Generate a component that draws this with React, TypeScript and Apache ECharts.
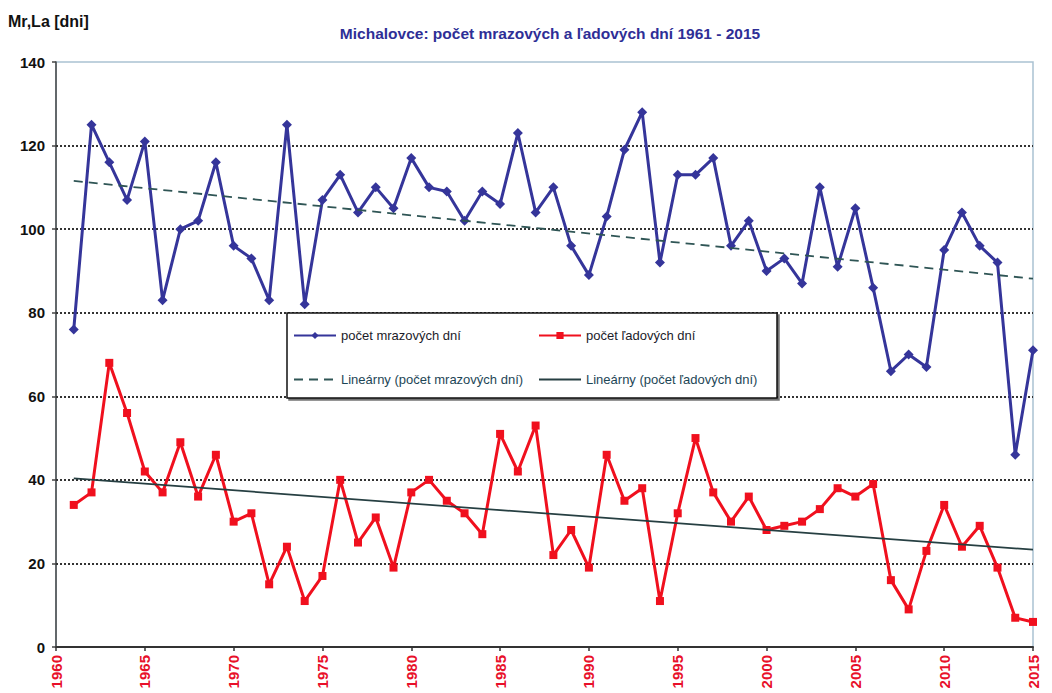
import React, { useEffect, useRef } from "react";
import * as echarts from "echarts";

const FONT = "Arial, 'Liberation Sans', sans-serif";

const TITLE = "Michalovce: počet mrazových a ľadových dní 1961 - 2015";
const Y_NAME = "Mr,La [dni]";

const FROST_NAME = "počet mrazových dní";
const ICE_NAME = "počet ľadových dní";
const FROST_TREND_NAME = "Lineárny (počet mrazových dní)";
const ICE_TREND_NAME = "Lineárny (počet ľadových dní)";

const years = Array.from({ length: 55 }, (_, i) => 1961 + i);

const frostDays = [
  76, 125, 116, 107, 121, 83, 100, 102, 116, 96,
  93, 83, 125, 82, 107, 113, 104, 110, 105, 117,
  110, 109, 102, 109, 106, 123, 104, 110, 96, 89,
  103, 119, 128, 92, 113, 113, 117, 96, 102, 90,
  93, 87, 110, 91, 105, 86, 66, 70, 67, 95,
  104, 96, 92, 46, 71,
];

const iceDays = [
  34, 37, 68, 56, 42, 37, 49, 36, 46, 30,
  32, 15, 24, 11, 17, 40, 25, 31, 19, 37,
  40, 35, 32, 27, 51, 42, 53, 22, 28, 19,
  46, 35, 38, 11, 32, 50, 37, 30, 36, 28,
  29, 30, 33, 38, 36, 39, 16, 9, 23, 34,
  24, 29, 19, 7, 6,
];

const gridTicks = [20, 40, 60, 80, 100, 120];

function linearTrend(xs: number[], ys: number[]): number[][] {
  const n = xs.length;
  const mx = xs.reduce((a, b) => a + b, 0) / n;
  const my = ys.reduce((a, b) => a + b, 0) / n;
  let sxy = 0;
  let sxx = 0;
  for (let i = 0; i < n; i++) {
    sxy += (xs[i] - mx) * (ys[i] - my);
    sxx += (xs[i] - mx) * (xs[i] - mx);
  }
  const k = sxy / sxx;
  const q = my - k * mx;
  const x0 = xs[0];
  const x1 = xs[n - 1];
  return [
    [x0, q + k * x0],
    [x1, q + k * x1],
  ];
}

export default function App() {
  const ref = useRef<HTMLDivElement>(null);

  useEffect(() => {
    if (!ref.current) return;
    const chart = echarts.init(ref.current, undefined, { renderer: "svg" });

    const frostData = years.map((y, i) => [y, frostDays[i]]);
    const iceData = years.map((y, i) => [y, iceDays[i]]);
    const frostTrend = linearTrend(years, frostDays);
    const iceTrend = linearTrend(years, iceDays);

    const legendBase = {
      orient: "horizontal",
      padding: 0,
      itemWidth: 42,
      itemHeight: 9,
      itemGap: 0,
      z: 20,
      selectedMode: false,
      textStyle: { fontFamily: FONT, fontSize: 13, color: "#1c1c2a", padding: [0, 0, 0, 0] },
    };

    const option: any = {
      animation: false,
      backgroundColor: "#ffffff",
      grid: {
        left: 56,
        right: 19,
        top: 62,
        bottom: 46,
        show: true,
        borderColor: "#aac2d2",
        borderWidth: 1.5,
        backgroundColor: "transparent",
      },
      xAxis: {
        type: "value",
        min: 1960,
        max: 2015,
        interval: 5,
        axisLine: { show: true, onZero: false, lineStyle: { color: "#333333", width: 2 } },
        axisTick: { show: true, length: 4, lineStyle: { color: "#333333", width: 1.5 } },
        axisLabel: {
          rotate: 90,
          color: "#e8102a",
          fontWeight: "bold",
          fontSize: 15,
          fontFamily: FONT,
          margin: 8,
          showMinLabel: true,
          showMaxLabel: true,
          formatter: (v: number) => String(v),
        },
        splitLine: { show: false },
      },
      yAxis: {
        type: "value",
        min: 0,
        max: 140,
        interval: 20,
        axisLine: { show: true, lineStyle: { color: "#444444", width: 1.5 } },
        axisTick: { show: true, length: 4, lineStyle: { color: "#444444", width: 1.5 } },
        axisLabel: {
          color: "#111111",
          fontWeight: "bold",
          fontSize: 15,
          fontFamily: FONT,
          margin: 11,
        },
        splitLine: { show: false },
      },
      legend: [
        { ...legendBase, data: [FROST_NAME], left: 293, top: 329 },
        { ...legendBase, data: [ICE_NAME], left: 538, top: 329 },
        {
          ...legendBase,
          data: [FROST_TREND_NAME],
          left: 293,
          top: 373,
          textStyle: { ...legendBase.textStyle, color: "#1d4656" },
        },
        {
          ...legendBase,
          data: [ICE_TREND_NAME],
          left: 538,
          top: 373,
          textStyle: { ...legendBase.textStyle, color: "#1d4656" },
        },
      ],
      graphic: [
        {
          type: "text",
          left: 8,
          top: 13,
          z: 30,
          style: {
            text: Y_NAME,
            fontFamily: FONT,
            fontSize: 16,
            fontWeight: "bold",
            fill: "#111111",
          },
        },
        {
          type: "text",
          x: 550,
          y: 33,
          z: 30,
          style: {
            text: TITLE,
            fontFamily: FONT,
            fontSize: 15.5,
            fontWeight: "bold",
            fill: "#2e2e96",
            textAlign: "center",
            textVerticalAlign: "middle",
          },
        },
        {
          type: "rect",
          z: 10,
          shape: { x: 287, y: 313, width: 490, height: 85 },
          style: {
            fill: "#ffffff",
            stroke: "#111111",
            lineWidth: 1.5,
            shadowColor: "rgba(0,0,0,0.55)",
            shadowOffsetX: 2,
            shadowOffsetY: 2,
            shadowBlur: 0,
          },
        },
      ],
      series: [
        {
          name: "grid",
          type: "line",
          data: [],
          z: 1,
          silent: true,
          markLine: {
            silent: true,
            symbol: ["none", "none"],
            label: { show: false },
            lineStyle: { type: [2, 2], color: "#333333", width: 2 },
            data: gridTicks.map((v) => ({ yAxis: v })),
          },
        },
        {
          name: FROST_NAME,
          type: "line",
          data: frostData,
          z: 5,
          symbol: "diamond",
          symbolSize: 10,
          itemStyle: { color: "#35359a" },
          lineStyle: { color: "#35359a", width: 3 },
        },
        {
          name: ICE_NAME,
          type: "line",
          data: iceData,
          z: 5,
          symbol: "rect",
          symbolSize: 8,
          itemStyle: { color: "#f0101e" },
          lineStyle: { color: "#f0101e", width: 3 },
        },
        {
          name: FROST_TREND_NAME,
          type: "line",
          data: frostTrend,
          z: 6,
          symbol: "none",
          itemStyle: { color: "#2f5555", opacity: 0 },
          lineStyle: { color: "#2f5555", width: 1.8, type: [9, 6], opacity: 1 },
        },
        {
          name: ICE_TREND_NAME,
          type: "line",
          data: iceTrend,
          z: 6,
          symbol: "none",
          itemStyle: { color: "#263f42", opacity: 0 },
          lineStyle: { color: "#263f42", width: 1.8, opacity: 1 },
        },
      ],
    };

    chart.setOption(option);
    return () => {
      chart.dispose();
    };
  }, []);

  return (
    <div
      ref={ref}
      style={{ position: "absolute", left: 0, top: 0, width: 1052, height: 693 }}
    />
  );
}
